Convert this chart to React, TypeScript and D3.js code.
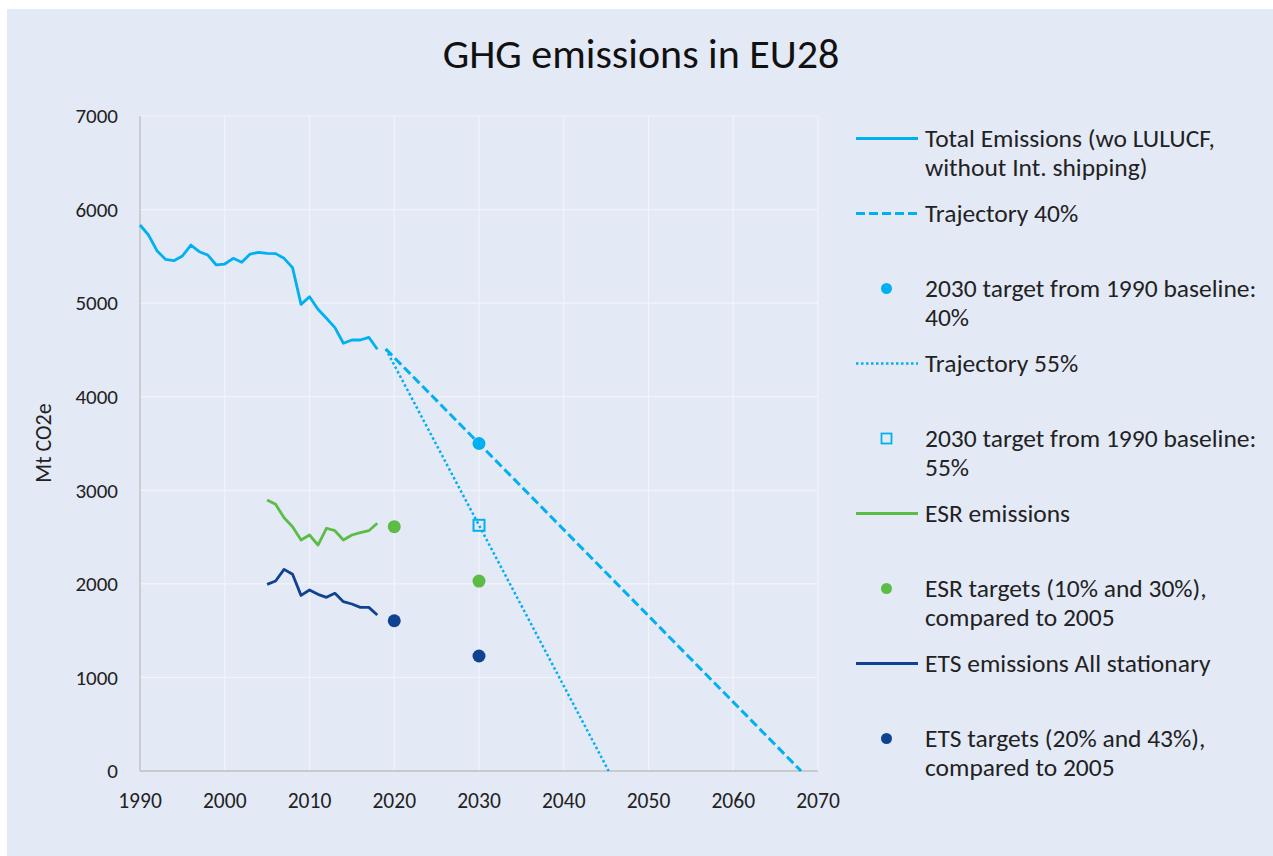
import React from "react";
import * as d3 from "d3";

const totalYears = [1990,1991,1992,1993,1994,1995,1996,1997,1998,1999,2000,2001,2002,2003,2004,2005,2006,2007,2008,2009,2010,2011,2012,2013,2014,2015,2016,2017,2018];
const totalValues = [5835,5728,5561,5468,5454,5504,5621,5550,5514,5408,5418,5479,5436,5525,5543,5532,5529,5479,5379,4987,5069,4934,4838,4738,4571,4606,4606,4635,4507];

const subYears = [2005,2006,2007,2008,2009,2010,2011,2012,2013,2014,2015,2016,2017,2018];
const esrValues = [2896,2850,2707,2611,2469,2522,2415,2594,2568,2469,2522,2547,2568,2647];
const etsValues = [1995,2030,2155,2102,1877,1934,1888,1856,1899,1810,1785,1749,1749,1667];

const traj40Years = [2019, 2030, 2068];
const traj40Values = [4510, 3500, 0];
const traj55Years = [2019, 2030, 2045.3];
const traj55Values = [4510, 2626, 0];

const target40 = { year: 2030, value: 3500 };
const target55 = { year: 2030, value: 2626 };
const esrTargetYears = [2020, 2030];
const esrTargetValues = [2611, 2030];
const etsTargetYears = [2020, 2030];
const etsTargetValues = [1606, 1229];

const xTicks = [1990, 2000, 2010, 2020, 2030, 2040, 2050, 2060, 2070];
const yTicks = [0, 1000, 2000, 3000, 4000, 5000, 6000, 7000];

const legendItems = [
  { kind: "line", dash: "", color: "#00B0F0", lines: ["Total Emissions (wo LULUCF,", "without Int. shipping)"] },
  { kind: "line", dash: "9 4", color: "#00B0F0", lines: ["Trajectory 40%"] },
  { kind: "dot", color: "#00B0F0", lines: ["2030 target from 1990 baseline:", "40%"] },
  { kind: "line", dash: "2.5 2.5", color: "#00B0F0", lines: ["Trajectory 55%"] },
  { kind: "square", color: "#00B0F0", lines: ["2030 target from 1990 baseline:", "55%"] },
  { kind: "line", dash: "", color: "#5BBD46", lines: ["ESR emissions"] },
  { kind: "dot", color: "#5BBD46", lines: ["ESR targets (10% and 30%),", "compared to 2005"] },
  { kind: "line", dash: "", color: "#0F4391", lines: ["ETS emissions All stationary"] },
  { kind: "dot", color: "#0F4391", lines: ["ETS targets (20% and 43%),", "compared to 2005"] },
];

const FONT = "Carlito, Calibri, Lato, 'Open Sans', sans-serif";
const BLUE = "#00B0F0";
const GREEN = "#5BBD46";
const NAVY = "#0F4391";

export default function App() {
  const x = d3.scaleLinear().domain([1990, 2070]).range([140, 818]);
  const y = d3.scaleLinear().domain([0, 7000]).range([771, 116]);
  const line = d3.line<[number, number]>().x(d => x(d[0])).y(d => y(d[1]));
  const zip = (a: number[], b: number[]) => a.map((v, i) => [v, b[i]] as [number, number]);

  return (
    <svg width={1273} height={856} style={{ position: "absolute", left: 0, top: 0 }} fontFamily={FONT}>
      <rect x={7} y={9} width={1266} height={847} fill="#E4E9F6" />
      <text x={641} y={53} dy="0.35em" textAnchor="middle" fontSize={42} fill="#111">GHG emissions in EU28</text>

      {yTicks.filter(t => t > 0).map(t => (
        <line key={"gy" + t} x1={x(1990)} x2={x(2070)} y1={y(t)} y2={y(t)} stroke="#F3F4F8" strokeWidth={1.2} />
      ))}
      {xTicks.filter(t => t > 1990).map(t => (
        <line key={"gx" + t} x1={x(t)} x2={x(t)} y1={y(0)} y2={y(7000)} stroke="#F3F4F8" strokeWidth={1.2} />
      ))}
      <line x1={x(1990)} x2={x(1990)} y1={y(0)} y2={y(7000)} stroke="#BFBFBF" strokeWidth={1.3} />
      <line x1={x(1990)} x2={x(2070)} y1={y(0)} y2={y(0)} stroke="#BFBFBF" strokeWidth={1.3} />

      {yTicks.map(t => (
        <text key={"ty" + t} x={118} y={y(t)} dy="0.35em" textAnchor="end" fontSize={21} fill="#222">{t}</text>
      ))}
      {xTicks.map(t => (
        <text key={"tx" + t} x={x(t)} y={800} dy="0.35em" textAnchor="middle" fontSize={21.5} fill="#222">{t}</text>
      ))}
      <text transform={`translate(43,443) rotate(-90)`} textAnchor="middle" dy="0.35em" fontSize={22} fill="#222">Mt CO2e</text>

      <path d={line(zip(totalYears, totalValues)) || ""} fill="none" stroke={BLUE} strokeWidth={2.8} strokeLinejoin="round" />
      <path d={line(zip(traj40Years, traj40Values)) || ""} fill="none" stroke={BLUE} strokeWidth={3} strokeDasharray="9 4" />
      <path d={line(zip(traj55Years, traj55Values)) || ""} fill="none" stroke={BLUE} strokeWidth={2.5} strokeDasharray="2.5 2.5" />
      <path d={line(zip(subYears, esrValues)) || ""} fill="none" stroke={GREEN} strokeWidth={2.8} strokeLinejoin="round" />
      <path d={line(zip(subYears, etsValues)) || ""} fill="none" stroke={NAVY} strokeWidth={2.8} strokeLinejoin="round" />

      <circle cx={x(target40.year)} cy={y(target40.value)} r={6.5} fill={BLUE} />
      <rect x={x(target55.year) - 5.5} y={y(target55.value) - 5.5} width={11} height={11} fill="none" stroke={BLUE} strokeWidth={2} />
      {esrTargetYears.map((yr, i) => (
        <circle key={"e" + i} cx={x(yr)} cy={y(esrTargetValues[i])} r={6.5} fill={GREEN} />
      ))}
      {etsTargetYears.map((yr, i) => (
        <circle key={"t" + i} cx={x(yr)} cy={y(etsTargetValues[i])} r={6.5} fill={NAVY} />
      ))}

      {legendItems.map((it, i) => {
        const cy = 138.5 + 75 * i;
        return (
          <g key={"lg" + i}>
            {it.kind === "line" && (
              <line x1={856} x2={918} y1={cy} y2={cy} stroke={it.color} strokeWidth={it.dash === "2.5 2.5" ? 2.5 : 2.8} strokeDasharray={it.dash || undefined} />
            )}
            {it.kind === "dot" && <circle cx={886.5} cy={cy} r={5.5} fill={it.color} />}
            {it.kind === "square" && (
              <rect x={881.5} y={cy - 5} width={10} height={10} fill="none" stroke={it.color} strokeWidth={1.8} />
            )}
            {it.lines.map((l, j) => (
              <text key={j} x={925} y={cy + 28.4 * j} dy="0.35em" fontSize={25.5} fill="#222">{l}</text>
            ))}
          </g>
        );
      })}
    </svg>
  );
}
